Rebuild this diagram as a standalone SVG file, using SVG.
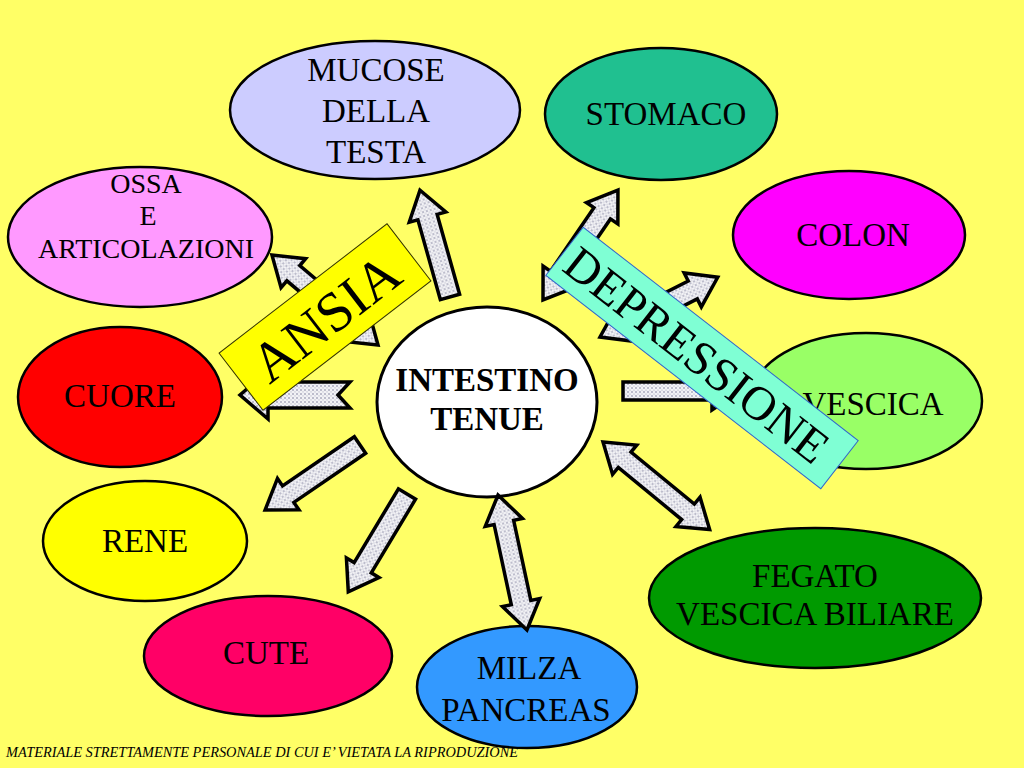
<svg xmlns="http://www.w3.org/2000/svg" width="1024" height="768" viewBox="0 0 1024 768">
<defs>
<pattern id="dots" width="4" height="4" patternUnits="userSpaceOnUse">
<rect width="4" height="4" fill="#F2F2F5"/>
<circle cx="1" cy="1" r="0.8" fill="#7A7A99"/>
<circle cx="3" cy="3" r="0.6" fill="#A0A0B8"/>
</pattern>
<style>
.node{stroke:#000;stroke-width:2.5}
.t{font-family:"Liberation Serif","Times New Roman",serif;font-size:33px;fill:#000;text-anchor:middle}
.arr{fill:url(#dots);stroke:#000;stroke-width:3.5;stroke-linejoin:miter}
</style>
</defs>
<rect width="1024" height="768" fill="#FFFF66"/>

<g id="mucose"><ellipse class="node" cx="375" cy="110" rx="145" ry="69" fill="#CCCCFF"/>
<text class="t" x="376" y="81">MUCOSE</text><text class="t" x="376" y="122">DELLA</text><text class="t" x="376" y="163">TESTA</text></g>
<g id="stomaco"><ellipse class="node" cx="661" cy="114" rx="116" ry="66" fill="#20C090"/>
<text class="t" x="666" y="125">STOMACO</text></g>
<g id="ossa"><ellipse class="node" cx="140" cy="237" rx="132" ry="70" fill="#FF99FF"/>
<text class="t" x="146" y="193" style="font-size:28px">OSSA</text><text class="t" x="148" y="225" style="font-size:28px">E</text><text class="t" x="146" y="258" style="font-size:28px">ARTICOLAZIONI</text></g>
<g id="colon"><ellipse class="node" cx="849" cy="235" rx="116" ry="64" fill="#FF00FF"/>
<text class="t" x="853" y="246">COLON</text></g>
<g id="cuore"><ellipse class="node" cx="120" cy="397" rx="102" ry="70" fill="#FF0000"/>
<text class="t" x="120" y="407">CUORE</text></g>
<g id="vescica"><ellipse class="node" cx="866" cy="401" rx="116" ry="68" fill="#99FF66"/>
<text class="t" x="873" y="415">VESCICA</text></g>
<g id="intestino"><ellipse class="node" cx="487" cy="402" rx="110" ry="95" fill="#FFFFFF" style="stroke-width:3"/>
<text class="t" x="487" y="391" font-weight="bold">INTESTINO</text><text class="t" x="487" y="430" font-weight="bold">TENUE</text></g>
<g id="rene"><ellipse class="node" cx="145" cy="541" rx="102" ry="60" fill="#FFFF00"/>
<text class="t" x="145" y="552">RENE</text></g>
<g id="fegato"><ellipse class="node" cx="815" cy="598" rx="166" ry="70" fill="#009A00"/>
<text class="t" x="815" y="587">FEGATO</text><text class="t" x="815" y="625">VESCICA BILIARE</text></g>
<g id="cute"><ellipse class="node" cx="268" cy="656" rx="124" ry="60" fill="#FF0066"/>
<text class="t" x="266" y="664">CUTE</text></g>
<g id="milza"><ellipse class="node" cx="527" cy="687" rx="110" ry="61" fill="#3399FF"/>
<text class="t" x="529" y="679">MILZA</text><text class="t" x="526" y="721">PANCREAS</text></g>

<g id="connectors">
<path class="arr" transform="translate(450,297) rotate(-105.7)" d="M0,-10 L83,-10 L83,-19 L111,0 L83,19 L83,10 L0,10 Z"/>
<path class="arr" transform="translate(378,345) rotate(-139.7)" d="M0,0 L28,-19 L28,-10 L111,-10 L111,-19 L139,0 L111,19 L111,10 L28,10 L28,19 Z"/>
<path class="arr" transform="translate(543,300) rotate(-55.7)" d="M0,0 L28,-19 L28,-10 L105,-10 L105,-19 L133,0 L105,19 L105,10 L28,10 L28,19 Z"/>
<path class="arr" transform="translate(600,337) rotate(-26.9)" d="M0,0 L28,-19 L28,-10 L104,-10 L104,-19 L132,0 L104,19 L104,10 L28,10 L28,19 Z"/>
<path class="arr" transform="translate(623,391) rotate(0)" d="M0,-9 L89,-9 L89,-19 L117,0 L89,19 L89,9 L0,9 Z"/>
<path class="arr" transform="translate(603,442) rotate(39.4)" d="M0,0 L28,-19 L28,-10 L110,-10 L110,-19 L138,0 L110,19 L110,10 L28,10 L28,19 Z"/>
<path class="arr" transform="translate(498,495) rotate(77.9)" d="M0,0 L28,-19 L28,-10 L110,-10 L110,-19 L138,0 L110,19 L110,10 L28,10 L28,19 Z"/>
<path class="arr" transform="translate(407,494) rotate(121)" d="M0,-10 L86,-10 L86,-19 L114,0 L86,19 L86,10 L0,10 Z"/>
<path class="arr" transform="translate(360,445) rotate(145.6)" d="M0,-10 L87,-10 L87,-19 L115,0 L87,19 L87,10 L0,10 Z"/>
<path class="arr" transform="translate(350,395) rotate(180)" d="M0,-13 L82,-13 L82,-24 L110,0 L82,24 L82,13 L0,13 L12,0 Z"/>
</g>

<g id="ansia" transform="translate(325,317) rotate(-37.6)">
<rect x="-106" y="-36" width="212" height="72" fill="#FFFF00" stroke="#333300" stroke-width="1"/>
<text x="0" y="20" style="font-family:'Liberation Serif','Times New Roman',serif;font-size:56px;text-anchor:middle">ANSIA</text>
</g>
<g id="depressione" transform="translate(702,358) rotate(37.8)">
<rect x="-174" y="-30.5" width="348" height="61" fill="#7FFFD4" stroke="#3366CC" stroke-width="1"/>
<text x="-6" y="17" style="font-family:'Liberation Serif','Times New Roman',serif;font-size:48px;text-anchor:middle">DEPRESSIONE</text>
</g>

<text x="6" y="757" textLength="512" lengthAdjust="spacingAndGlyphs" style="font-family:'Liberation Serif','Times New Roman',serif;font-size:14px;font-style:italic">MATERIALE STRETTAMENTE PERSONALE DI CUI E’ VIETATA LA RIPRODUZIONE</text>
</svg>
